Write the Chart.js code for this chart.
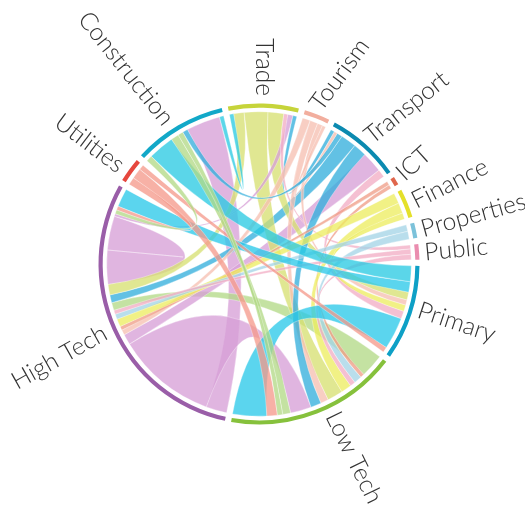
<!DOCTYPE html>
<html><head><meta charset="utf-8">
<script src="https://cdn.jsdelivr.net/npm/chart.js@4.4.0/dist/chart.umd.min.js"></script>
<style>html,body{margin:0;padding:0;background:#fff;overflow:hidden}</style>
</head><body>
<canvas id="c" width="525" height="512"></canvas>
<script>
// ---- categories around the circle (clockwise from the top) ----
const categories = ['Trade','Tourism','Transport','ICT','Finance','Properties','Public','Primary','Low Tech','High Tech','Utilities','Construction'];
const ringColors   = ['#c6d43a','#f2ae9e','#0b8ab0','#e0664c','#e4e02a','#7cc2da','#ea8daf','#0ea0c6','#86c13c','#9a5ea8','#e6473e','#12a8c8'];
const ribbonColors = ['#d6e070','#f6bfb0','#30aedb','#ef9c86','#ecec5e','#a3d4e6','#f2acc4','#27c8e8','#b2d985','#d69ed6','#f4988a','#27c9e2'];

// ---- flows (ribbons): end categories, width at each end, colour owner ----
const linkFrom      = ['High Tech','High Tech','High Tech','Low Tech','High Tech','Transport','Trade','Trade','Trade','Trade','Trade','Trade','Trade','Tourism','Tourism','Tourism','Tourism','Transport','Transport','Transport','ICT','ICT','Finance','Finance','Finance','Properties','Properties','Public','Public','Primary','Construction','Primary','Utilities','Utilities','Utilities','Construction','Construction','Construction'];
const linkFromWidth = [13,8,38,9,4,6,4,9,6,2,1.5,1.6,1.5,3,3,2,1.3,5,2,3,1.5,1.5,4,4,2.4,2.5,3,2,2.1,4,10,12.2,2,4,2.9,3,2,2.3];
const linkTo        = ['High Tech','Construction','Low Tech','High Tech','Transport','High Tech','High Tech','Low Tech','Primary','High Tech','Transport','Construction','Public','High Tech','Low Tech','Primary','Transport','Low Tech','Construction','Primary','High Tech','Low Tech','High Tech','Low Tech','Primary','High Tech','Low Tech','High Tech','Low Tech','High Tech','Primary','Low Tech','Primary','Low Tech','High Tech','Low Tech','Low Tech','High Tech'];
const linkToWidth   = [13,13,8,3,8,3,4,6,3,1,1.5,1.6,1.5,2,3,2,1.3,4,2,3,1.5,1.5,3,4,2.4,2,3,1.5,2.0,7,6,13,2,4,1.5,3,2,1.5];
const linkColor     = ['High Tech','High Tech','High Tech','Low Tech','High Tech','Transport','Trade','Trade','Trade','High Tech','Transport','Construction','Public','Tourism','Tourism','Tourism','Tourism','Transport','Transport','Public','ICT','ICT','Finance','Finance','Finance','Properties','Properties','Public','Public','Primary','Construction','Primary','Utilities','Utilities','Utilities','Low Tech','Low Tech','Low Tech'];

// ---- clockwise order of ribbon ends inside each category (link ids) ----
const endOrder = [
  [11,6,7,8,12,9,10],                              // Trade
  [13,14,15,16],                                   // Tourism
  [10,16,18,5,17,4,19],                            // Transport
  [20,21],                                         // ICT
  [22,23,24],                                      // Finance
  [25,26],                                         // Properties
  [12,27,28],                                      // Public
  [30,29,8,15,24,19,31,32],                        // Primary
  [3,21,26,28,23,7,14,17,2,35,36,33,31],           // Low Tech
  [1,2,4,13,20,22,25,27,3,5,6,0,0,9,37,34,29],     // High Tech
  [34,33,32],                                      // Utilities
  [37,30,35,36,18,1,11]                            // Construction
];

// ---- layout / style constants ----
const GAP = 2.24;          // empty space between groups (same units as flows)
const ROTATION = -11.2;    // start angle of the first group (degrees from top)
const labelShift = [0,-1.5,-0.7,-0.7,0.4,0.2,0.4,-2,-4.9,0.5,-0.9,-2.1];   // degrees
const labelTilt  = [-1.6,16.6,10.5,-10,-4.6,-3.5,-1.5,2.4,0,-5.5,2,-6];   // degrees

// ---- derive end widths and group totals from the data ----
const ends = endOrder.map((list, ci) => {
  const seen = {};
  return list.map(k => {
    const name = categories[ci];
    let side;
    if (linkFrom[k] === name && linkTo[k] === name) { side = seen[k] ? 'to' : 'from'; }
    else side = linkFrom[k] === name ? 'from' : 'to';
    seen[k] = true;
    return {k, side, w: side === 'from' ? linkFromWidth[k] : linkToWidth[k]};
  });
});
const totals = ends.map(l => l.reduce((s, e) => s + e.w, 0));
const ringData = [], ringBg = [], ringLabels = [];
totals.forEach((t, i) => { ringData.push(t, GAP); ringBg.push(ringColors[i], 'rgba(0,0,0,0)'); ringLabels.push(categories[i], ''); });

function hexA(h, a) {
  const n = parseInt(h.slice(1), 16);
  return `rgba(${(n>>16)&255},${(n>>8)&255},${n&255},${a})`;
}
const D = Math.PI / 180;

const chordPlugin = {
  id: 'chord',
  beforeDatasetsDraw(chart) {
    const arcs = chart.getDatasetMeta(0).data;
    const ctx = chart.ctx;
    const pos = {};
    let cx = 0, cy = 0, rIn = 0;
    ends.forEach((list, ci) => {
      const arc = arcs[2 * ci];
      cx = arc.x; cy = arc.y; rIn = arc.innerRadius - 4;
      const unit = (arc.endAngle - arc.startAngle) / totals[ci];
      let cur = arc.startAngle;
      list.forEach(e => {
        pos[e.k + e.side] = [cur, cur + e.w * unit];
        cur += e.w * unit;
      });
    });
    ctx.save();
    linkFrom.forEach((f, k) => {
      const s = pos[k + 'from'], t = pos[k + 'to'];
      if (!s || !t) return;
      const r = rIn;
      ctx.beginPath();
      ctx.moveTo(cx + r * Math.cos(s[0]), cy + r * Math.sin(s[0]));
      ctx.arc(cx, cy, r, s[0], s[1]);
      ctx.quadraticCurveTo(cx, cy, cx + r * Math.cos(t[0]), cy + r * Math.sin(t[0]));
      ctx.arc(cx, cy, r, t[0], t[1]);
      ctx.quadraticCurveTo(cx, cy, cx + r * Math.cos(s[0]), cy + r * Math.sin(s[0]));
      ctx.closePath();
      ctx.fillStyle = hexA(ribbonColors[categories.indexOf(linkColor[k])], 0.76);
      ctx.fill();
      ctx.strokeStyle = 'rgba(255,255,255,0.55)';
      ctx.lineWidth = 0.6;
      ctx.stroke();
    });
    ctx.restore();
  },
  afterDatasetsDraw(chart) {
    const arcs = chart.getDatasetMeta(0).data;
    const ctx = chart.ctx;
    ctx.save();
    ctx.font = '300 24.5px Lato, "Open Sans", sans-serif';
    ctx.fillStyle = '#333333';
    ctx.textBaseline = 'middle';
    categories.forEach((name, ci) => {
      const arc = arcs[2 * ci];
      const mid = (arc.startAngle + arc.endAngle) / 2 + labelShift[ci] * D;
      const rot = mid + labelTilt[ci] * D;
      let deg = (mid / D + 90) % 360; if (deg < 0) deg += 360;
      const left = deg > 180 || deg < 5;
      const r = left ? 168 : 166;
      ctx.save();
      ctx.translate(arc.x + r * Math.cos(mid), arc.y + r * Math.sin(mid));
      if (left) { ctx.rotate(rot + Math.PI); ctx.textAlign = 'right'; }
      else { ctx.rotate(rot); ctx.textAlign = 'left'; }
      ctx.fillText(name, 0, 0);
      ctx.restore();
    });
    ctx.restore();
  }
};

new Chart(document.getElementById('c'), {
  type: 'doughnut',
  data: { labels: ringLabels, datasets: [{ data: ringData, backgroundColor: ringBg, borderWidth: 0, hoverOffset: 0 }] },
  options: {
    responsive: false,
    devicePixelRatio: 1,
    animation: false,
    rotation: ROTATION,
    radius: 160.5,
    cutout: '97.4%',
    layout: { padding: { left: 0, right: 7, top: 16, bottom: 0 } },
    events: [],
    plugins: { legend: { display: false }, tooltip: { enabled: false } }
  },
  plugins: [chordPlugin]
});
</script>
</body></html>
